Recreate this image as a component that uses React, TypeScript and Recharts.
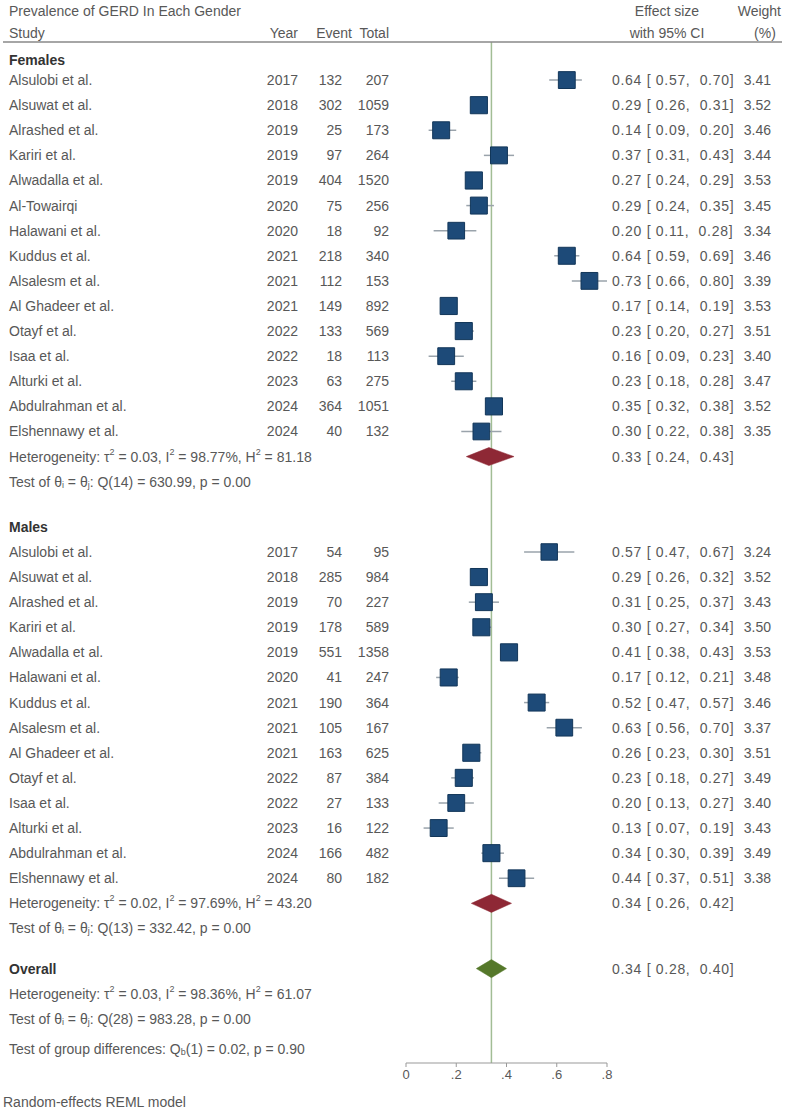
import React from 'react'
import {
  ComposedChart,
  Scatter,
  XAxis,
  YAxis,
  ZAxis,
  ErrorBar,
  ReferenceLine,
  ReferenceArea,
} from 'recharts'

// [study, year, event, total, effect, lower, upper, weight]
const femaleStudies: [string, number, number, number, number, number, number, number][] = [
  ['Alsulobi et al.', 2017, 132, 207, 0.64, 0.57, 0.7, 3.41],
  ['Alsuwat et al.', 2018, 302, 1059, 0.29, 0.26, 0.31, 3.52],
  ['Alrashed et al.', 2019, 25, 173, 0.14, 0.09, 0.2, 3.46],
  ['Kariri et al.', 2019, 97, 264, 0.37, 0.31, 0.43, 3.44],
  ['Alwadalla et al.', 2019, 404, 1520, 0.27, 0.24, 0.29, 3.53],
  ['Al-Towairqi', 2020, 75, 256, 0.29, 0.24, 0.35, 3.45],
  ['Halawani et al.', 2020, 18, 92, 0.2, 0.11, 0.28, 3.34],
  ['Kuddus et al.', 2021, 218, 340, 0.64, 0.59, 0.69, 3.46],
  ['Alsalesm et al.', 2021, 112, 153, 0.73, 0.66, 0.8, 3.39],
  ['Al Ghadeer et al.', 2021, 149, 892, 0.17, 0.14, 0.19, 3.53],
  ['Otayf et al.', 2022, 133, 569, 0.23, 0.2, 0.27, 3.51],
  ['Isaa et al.', 2022, 18, 113, 0.16, 0.09, 0.23, 3.4],
  ['Alturki et al.', 2023, 63, 275, 0.23, 0.18, 0.28, 3.47],
  ['Abdulrahman et al.', 2024, 364, 1051, 0.35, 0.32, 0.38, 3.52],
  ['Elshennawy et al.', 2024, 40, 132, 0.3, 0.22, 0.38, 3.35],
]

const maleStudies: [string, number, number, number, number, number, number, number][] = [
  ['Alsulobi et al.', 2017, 54, 95, 0.57, 0.47, 0.67, 3.24],
  ['Alsuwat et al.', 2018, 285, 984, 0.29, 0.26, 0.32, 3.52],
  ['Alrashed et al.', 2019, 70, 227, 0.31, 0.25, 0.37, 3.43],
  ['Kariri et al.', 2019, 178, 589, 0.3, 0.27, 0.34, 3.5],
  ['Alwadalla et al.', 2019, 551, 1358, 0.41, 0.38, 0.43, 3.53],
  ['Halawani et al.', 2020, 41, 247, 0.17, 0.12, 0.21, 3.48],
  ['Kuddus et al.', 2021, 190, 364, 0.52, 0.47, 0.57, 3.46],
  ['Alsalesm et al.', 2021, 105, 167, 0.63, 0.56, 0.7, 3.37],
  ['Al Ghadeer et al.', 2021, 163, 625, 0.26, 0.23, 0.3, 3.51],
  ['Otayf et al.', 2022, 87, 384, 0.23, 0.18, 0.27, 3.49],
  ['Isaa et al.', 2022, 27, 133, 0.2, 0.13, 0.27, 3.4],
  ['Alturki et al.', 2023, 16, 122, 0.13, 0.07, 0.19, 3.43],
  ['Abdulrahman et al.', 2024, 166, 482, 0.34, 0.3, 0.39, 3.49],
  ['Elshennawy et al.', 2024, 80, 182, 0.44, 0.37, 0.51, 3.38],
]

// pooled [effect, lower, upper]
const femalePooled = [0.33, 0.24, 0.43]
const malePooled = [0.34, 0.26, 0.42]
const overallPooled = [0.34, 0.28, 0.4]

// heterogeneity [tau2, I2, H2], test [df, Q, p]
const femaleHet = ['0.03', '98.77%', '81.18']
const maleHet = ['0.02', '97.69%', '43.20']
const overallHet = ['0.03', '98.36%', '61.07']
const femaleQ = ['14', '630.99', '0.00']
const maleQ = ['13', '332.42', '0.00']
const overallQ = ['28', '983.28', '0.00']
const groupDiff = ['1', '0.02', '0.90']

const xTicks = [0, 0.2, 0.4, 0.6, 0.8]

const FONT = '"Liberation Sans", Arial, sans-serif'
const TXT = '#585858'
const FS = 14

// row layout (in row units)
type Row = {
  kind: 'group' | 'study' | 'het' | 'test' | 'diff'
  u: number
  label?: string
  study?: (typeof femaleStudies)[number]
  pooled?: number[]
  vals?: string[]
}

const rows: Row[] = []
let u = 0
rows.push({ kind: 'group', label: 'Females', u })
u += 0.8
femaleStudies.forEach((s) => { rows.push({ kind: 'study', u, study: s }); u += 1 })
rows.push({ kind: 'het', u, vals: femaleHet, pooled: femalePooled }); u += 1
rows.push({ kind: 'test', u, vals: femaleQ }); u += 1.8
rows.push({ kind: 'group', label: 'Males', u }); u += 1
maleStudies.forEach((s) => { rows.push({ kind: 'study', u, study: s }); u += 1 })
rows.push({ kind: 'het', u, vals: maleHet, pooled: malePooled }); u += 1
rows.push({ kind: 'test', u, vals: maleQ }); u += 1.6
rows.push({ kind: 'group', label: 'Overall', u, pooled: overallPooled }); u += 1
rows.push({ kind: 'het', u, vals: overallHet }); u += 1
rows.push({ kind: 'test', u, vals: overallQ }); u += 1.2
rows.push({ kind: 'diff', u, vals: groupDiff })

const ROW_PX = 25.1
const FIRST_PX = 60
const PLOT_TOP = 42
const PLOT_BOTTOM = 1063
const yDomain = [(PLOT_TOP - FIRST_PX) / ROW_PX, (PLOT_BOTTOM - FIRST_PX) / ROW_PX]

const rowByU = new Map(rows.map((r) => [r.u, r]))
const yTicks = rows.map((r) => r.u)

const studyPoints = rows
  .filter((r) => r.kind === 'study')
  .map((r) => {
    const [, , , , es, lo, hi, w] = r.study!
    return { x: es, y: r.u, z: w, ci: [es - lo, hi - es] }
  })

const diamonds = rows
  .filter((r) => r.pooled)
  .map((r) => ({ u: r.u, p: r.pooled!, color: r.kind === 'group' ? '#55782a' : '#8e2835' }))

const f2 = (v: number) => v.toFixed(2)
const esText = (p: number[]) => `${f2(p[0])} [ ${f2(p[1])},  ${f2(p[2])}]`

const sup = (t: string, rest: string) => (
  <>
    <tspan dy={-5} fontSize={9}>{t}</tspan>
    <tspan dy={5}>{rest}</tspan>
  </>
)
const sub = (t: string, rest: string) => (
  <>
    <tspan dy={3} fontSize={9}>{t}</tspan>
    <tspan dy={-3}>{rest}</tspan>
  </>
)

function LeftTick(props: any) {
  const { y, payload } = props
  const r = rowByU.get(payload.value)
  if (!r) return null
  const base = { y, fontFamily: FONT, fontSize: FS, fill: TXT, dominantBaseline: 'central' as const }
  if (r.kind === 'group')
    return <text {...base} x={9} fontWeight="bold" fill="#333">{r.label}</text>
  if (r.kind === 'study') {
    const [name, year, ev, tot] = r.study!
    return (
      <g>
        <text {...base} x={9}>{name}</text>
        <text {...base} x={298} textAnchor="end">{year}</text>
        <text {...base} x={342} textAnchor="end">{ev}</text>
        <text {...base} x={389} textAnchor="end">{tot}</text>
      </g>
    )
  }
  const v = r.vals!
  if (r.kind === 'het')
    return (
      <text {...base} x={9}>
        Heterogeneity: τ{sup('2', ` = ${v[0]}, I`)}{sup('2', ` = ${v[1]}, H`)}{sup('2', ` = ${v[2]}`)}
      </text>
    )
  if (r.kind === 'test')
    return (
      <text {...base} x={9}>
        Test of θ{sub('i', ' = θ')}{sub('j', `: Q(${v[0]}) = ${v[1]}, p = ${v[2]}`)}
      </text>
    )
  return (
    <text {...base} x={9}>
      Test of group differences: Q{sub('b', `(${v[0]}) = ${v[1]}, p = ${v[2]}`)}
    </text>
  )
}

function RightTick(props: any) {
  const { y, payload } = props
  const r = rowByU.get(payload.value)
  if (!r) return null
  const base = { y, fontFamily: FONT, fontSize: FS, fill: TXT, dominantBaseline: 'central' as const }
  if (r.kind === 'study') {
    const s = r.study!
    return (
      <g>
        <text {...base} x={612} xmlSpace="preserve" letterSpacing={0.7}>{esText([s[4], s[5], s[6]])}</text>
        <text {...base} x={771} textAnchor="end">{s[7].toFixed(2)}</text>
      </g>
    )
  }
  if (r.pooled)
    return <text {...base} x={612} xmlSpace="preserve" letterSpacing={0.7}>{esText(r.pooled)}</text>
  return null
}

const diamondShape = (p: number[], color: string) => (props: any) => {
  const { x, y, width, height } = props
  const cx = x + (width * (p[0] - p[1])) / (p[2] - p[1])
  const cy = y + height / 2
  return (
    <polygon
      points={`${x},${cy} ${cx},${y} ${x + width},${cy} ${cx},${y + height}`}
      fill={color}
      stroke={color}
      strokeWidth={0.5}
    />
  )
}

const headText = { fontFamily: FONT, fontSize: FS, fill: TXT, dominantBaseline: 'central' as const }

export default function App() {
  return (
    <div style={{ position: 'absolute', left: 0, top: 0, width: 785, height: 1112, background: '#fff' }}>
      <ComposedChart
        width={785}
        height={1112}
        margin={{ top: PLOT_TOP, right: 0, bottom: 0, left: 0 }}
      >
        <XAxis
          type="number"
          dataKey="x"
          domain={[0, 0.8]}
          ticks={xTicks}
          allowDataOverflow
          height={1112 - PLOT_BOTTOM}
          tickSize={4}
          tickMargin={3}
          stroke="#999"
          tick={{ fill: TXT, fontSize: 13, fontFamily: FONT }}
          tickFormatter={(v: number) => (v === 0 ? '0' : v.toFixed(1).replace(/^0/, ''))}
        />
        <YAxis
          yAxisId="l"
          type="number"
          dataKey="y"
          domain={yDomain}
          reversed
          allowDataOverflow
          ticks={yTicks}
          interval={0}
          width={406}
          axisLine={false}
          tickLine={false}
          tick={<LeftTick />}
        />
        <YAxis
          yAxisId="r"
          orientation="right"
          type="number"
          dataKey="y"
          domain={yDomain}
          reversed
          allowDataOverflow
          ticks={yTicks}
          interval={0}
          width={178}
          axisLine={false}
          tickLine={false}
          tick={<RightTick />}
        />
        <ZAxis type="number" dataKey="z" domain={[0, 3.6]} range={[0, 300]} />
        <ReferenceLine yAxisId="l" x={overallPooled[0]} stroke="#a2bd95" strokeWidth={1.5} zIndex={-1} />
        <Scatter
          yAxisId="r"
          data={studyPoints}
          isAnimationActive={false}
          shape={() => <g />}
        >
          <ErrorBar dataKey="ci" direction="x" width={0} stroke="#9aa3ab" strokeWidth={1.5} isAnimationActive={false} />
        </Scatter>
        <Scatter
          yAxisId="l"
          data={studyPoints}
          isAnimationActive={false}
          shape="square"
          fill="#1d4a78"
          stroke="#123659"
          strokeWidth={1}
        />
        {diamonds.map((d, i) => (
          <ReferenceArea
            key={i}
            yAxisId="l"
            x1={d.p[1]}
            x2={d.p[2]}
            y1={d.u - 0.36}
            y2={d.u + 0.36}
            ifOverflow="visible"
            shape={diamondShape(d.p, d.color)}
          />
        ))}
      </ComposedChart>
      <svg width={785} height={1112} style={{ position: 'absolute', left: 0, top: 0, pointerEvents: 'none' }}>
        <text {...headText} x={9} y={11}>Prevalence of GERD In Each Gender</text>
        <text {...headText} x={9} y={33}>Study</text>
        <text {...headText} x={298} y={33} textAnchor="end">Year</text>
        <text {...headText} x={352} y={33} textAnchor="end">Event</text>
        <text {...headText} x={389} y={33} textAnchor="end">Total</text>
        <text {...headText} x={667} y={11} textAnchor="middle">Effect size</text>
        <text {...headText} x={667} y={33} textAnchor="middle">with 95% CI</text>
        <text {...headText} x={781} y={11} textAnchor="end">Weight</text>
        <text {...headText} x={765} y={33} textAnchor="middle">(%)</text>
        <line x1={3} x2={782} y1={PLOT_TOP} y2={PLOT_TOP} stroke="#888" strokeWidth={1.5} />
        <text {...headText} x={3} y={1102}>Random-effects REML model</text>
      </svg>
    </div>
  )
}
